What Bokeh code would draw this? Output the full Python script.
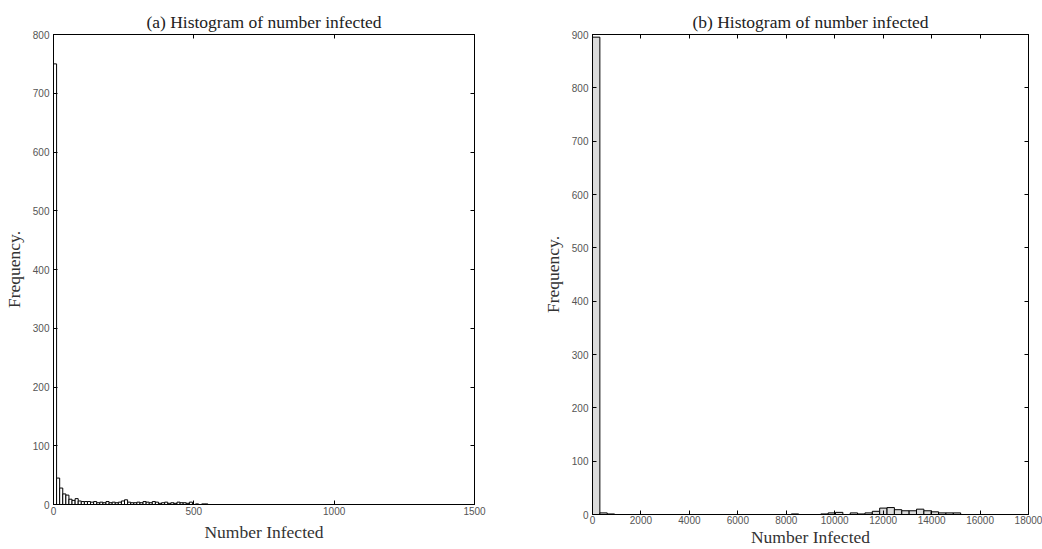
import numpy as np
from bokeh.plotting import figure
from bokeh.models import LinearAxis, FixedTicker, Range1d
from bokeh.layouts import row, column
from bokeh.embed import file_html
from bokeh.resources import INLINE

# ---- data ----
a_title = "(a) Histogram of number infected"
b_title = "(b) Histogram of number infected"
x_label = "Number Infected"
y_label = "Frequency."

a_bin_width = 11
a_counts = [750, 45, 28, 18, 16, 9, 7, 10, 6, 5, 5, 5, 4, 5, 3, 4, 3, 5, 3, 4,
            3, 4, 6, 8, 4, 3, 3, 4, 3, 5, 4, 3, 5, 4, 2, 3, 4, 2, 3, 2,
            4, 3, 3, 2, 4, 0, 1, 0, 1, 1]
a_xticks = [0, 500, 1000, 1500]
a_yticks = [0, 100, 200, 300, 400, 500, 600, 700, 800]

b_bin_width = 304
b_counts = [895, 3, 1, 0, 0, 0, 0, 0, 0, 0, 0, 0, 0, 0, 0, 0, 0, 0, 0, 0,
            0, 0, 0, 0, 0, 0, 0, 1, 0, 0, 0, 1, 3, 4, 0, 3, 1, 3, 6, 12,
            13, 9, 7, 7, 10, 7, 5, 3, 3, 3]
b_xticks = [0, 2000, 4000, 6000, 8000, 10000, 12000, 14000, 16000, 18000]
b_yticks = [0, 100, 200, 300, 400, 500, 600, 700, 800, 900]

SERIF = "Liberation Serif"
SANS = "Liberation Sans"


def make_panel(title, counts, bw, xr, yr, xticks, yticks, fill, width,
               bl, br, bb, tick_standoff, xlab_standoff):
    edges = np.arange(len(counts) + 1) * bw
    p = figure(width=width, height=549, output_backend="svg",
               toolbar_location=None, x_range=Range1d(*xr),
               y_range=Range1d(*yr), min_border_left=bl,
               min_border_right=br, min_border_top=34, min_border_bottom=bb)
    p.quad(left=edges[:-1], right=edges[1:], top=counts, bottom=0,
           fill_color=fill, line_color="black", line_width=1)
    p.grid.visible = False
    p.outline_line_color = "black"
    p.outline_line_width = 1
    p.title.text = title
    p.title.align = "center"
    p.title.text_font = SERIF
    p.title.text_font_style = "normal"
    p.title.text_font_size = "17.5px"
    p.title.text_color = "#222222"
    p.title.standoff = 6

    for ax, ticks in ((p.xaxis[0], xticks), (p.yaxis[0], yticks)):
        ax.ticker = FixedTicker(ticks=ticks)
        ax.major_tick_in = 4
        ax.major_tick_out = 0
        ax.minor_tick_in = 0
        ax.minor_tick_out = 0
        ax.minor_tick_line_color = None
        ax.major_label_text_font = SANS
        ax.major_label_text_font_size = "10px"
        ax.major_label_text_color = "#555555"
        ax.axis_label_text_font = SERIF
        ax.axis_label_text_font_style = "normal"
        ax.axis_label_text_color = "#333333"
        ax.axis_line_color = "black"
    p.xaxis[0].axis_label = x_label
    p.xaxis[0].axis_label_text_font_size = "17.5px"
    p.xaxis[0].major_label_standoff = tick_standoff
    p.xaxis[0].axis_label_standoff = xlab_standoff
    p.yaxis[0].axis_label = y_label
    p.yaxis[0].axis_label_text_font_size = "17.5px"
    p.yaxis[0].major_label_standoff = 4
    p.yaxis[0].axis_label_standoff = 6

    # mirrored inward ticks on top and right (minor ticks carry no labels)
    top = LinearAxis(ticker=FixedTicker(ticks=[], minor_ticks=xticks))
    right = LinearAxis(ticker=FixedTicker(ticks=[], minor_ticks=yticks))
    for ax in (top, right):
        ax.major_tick_line_color = None
        ax.major_tick_in = 0
        ax.major_tick_out = 0
        ax.minor_tick_in = 4
        ax.minor_tick_out = 0
        ax.minor_tick_line_color = "black"
        ax.major_label_standoff = 0
        ax.axis_line_color = "black"
    p.add_layout(top, "above")
    p.add_layout(right, "right")
    return p


pa = make_panel(a_title, a_counts, a_bin_width, (0, 1500), (0, 800),
                a_xticks, a_yticks, "white", 520, 53, 46, 45, 2, 4)
pb = make_panel(b_title, b_counts, b_bin_width, (0, 18000), (0, 900),
                b_xticks, b_yticks, "#dcdcdc", 522, 72, 14, 33, 1, 0)

layout = row(column(pa), column(pb))
open("out.html", "w").write(file_html(layout, INLINE))
